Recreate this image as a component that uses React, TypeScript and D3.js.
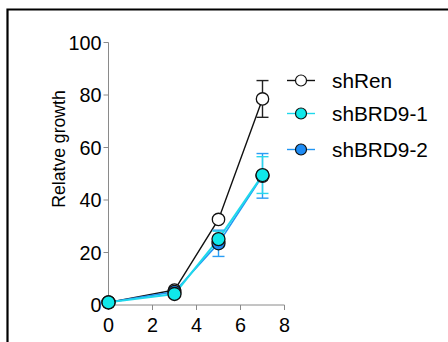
import React from "react";
import * as d3 from "d3";

// Days after infection
const days = [0, 3, 5, 7];

// Relative growth (mean) and error (SD) for each hairpin
const shRen = [1, 5.7, 32.6, 78.5];
const shRenErr = [0, 0.5, 1, 7];
const shBRD9_1 = [1, 4.2, 25.1, 49.5];
const shBRD9_1Err = [0, 0.5, 3, 7];
const shBRD9_2 = [1, 5, 23.5, 49.2];
const shBRD9_2Err = [0, 0.5, 5, 8.5];

const xTicks = [0, 2, 4, 6, 8];
const yTicks = [0, 20, 40, 60, 80, 100];

const seriesNames = ["shRen", "shBRD9-1", "shBRD9-2"];

const W = 448;
const H = 342;
const FONT = "Arial, 'Liberation Sans', Helvetica, sans-serif";

export default function App() {
  const x = d3.scaleLinear().domain([0, 8]).range([108.5, 284.5]);
  const y = d3.scaleLinear().domain([0, 100]).range([305, 42.5]);

  const series = [
    { name: seriesNames[0], values: shRen, err: shRenErr, line: "#111", fill: "#fff", errColor: "#222", lw: 1.4, r: 6.2 },
    { name: seriesNames[2], values: shBRD9_2, err: shBRD9_2Err, line: "#2196f3", fill: "#1e8cf5", errColor: "#2a9df4", lw: 1.6, r: 6.5 },
    { name: seriesNames[1], values: shBRD9_1, err: shBRD9_1Err, line: "#1fd8ec", fill: "#10e8ea", errColor: "#2ad6ec", lw: 2, r: 6.5 },
  ];

  const lineGen = d3
    .line<number>()
    .x((_, i) => x(days[i]))
    .y((d) => y(d));

  const legend = [
    { name: seriesNames[0], line: "#111", fill: "#fff", y: 80.5 },
    { name: seriesNames[1], line: "#1fd8ec", fill: "#10e8ea", y: 113.5 },
    { name: seriesNames[2], line: "#2196f3", fill: "#1e8cf5", y: 149.5 },
  ];

  const axisColor = "#8a8a8a";

  return (
    <svg
      width={W}
      height={H}
      style={{ position: "absolute", left: 0, top: 0, background: "#fff" }}
      fontFamily={FONT}
    >
      {/* frame */}
      <path d={`M7.5,${H} V9.5 H${W}`} fill="none" stroke="#000" strokeWidth={2.2} />

      {/* y axis */}
      <line x1={x(0)} x2={x(0)} y1={y(0)} y2={y(100)} stroke={axisColor} strokeWidth={1} />
      {yTicks.map((t) => (
        <g key={`y${t}`}>
          <line x1={x(0) - 5} x2={x(0)} y1={y(t)} y2={y(t)} stroke={axisColor} strokeWidth={1} />
          <text x={x(0) - 7} y={y(t)} dy="0.36em" textAnchor="end" fontSize={19.8} fill="#000">
            {t}
          </text>
        </g>
      ))}

      {/* x axis */}
      <line x1={x(0)} x2={x(8)} y1={y(0)} y2={y(0)} stroke={axisColor} strokeWidth={1} />
      {xTicks.map((t) => (
        <g key={`x${t}`}>
          <line x1={x(t)} x2={x(t)} y1={y(0)} y2={y(0) + 5} stroke={axisColor} strokeWidth={1} />
          <text x={x(t)} y={332} textAnchor="middle" fontSize={19.8} fill="#000">
            {t}
          </text>
        </g>
      ))}

      {/* axis title */}
      <text
        transform={`translate(64.5,149) rotate(-90)`}
        textAnchor="middle"
        fontSize={17.6}
        fill="#000"
      >
        Relatve growth
      </text>

      {/* lines */}
      {series.map((s) => (
        <path key={`l${s.name}`} d={lineGen(s.values) || ""} fill="none" stroke={s.line} strokeWidth={s.lw} />
      ))}

      {/* error bars */}
      {series.map((s) =>
        s.values.map((v, i) =>
          s.err[i] > 1.5 ? (
            <g key={`e${s.name}${i}`} stroke={s.errColor} strokeWidth={1.4}>
              <line x1={x(days[i])} x2={x(days[i])} y1={y(v + s.err[i])} y2={y(v - s.err[i])} />
              <line x1={x(days[i]) - 6} x2={x(days[i]) + 6} y1={y(v + s.err[i])} y2={y(v + s.err[i])} />
              <line x1={x(days[i]) - 6} x2={x(days[i]) + 6} y1={y(v - s.err[i])} y2={y(v - s.err[i])} />
            </g>
          ) : null
        )
      )}

      {/* markers */}
      {series.map((s) =>
        s.values.map((v, i) => (
          <circle
            key={`m${s.name}${i}`}
            cx={x(days[i])}
            cy={y(v)}
            r={s.r}
            fill={s.fill}
            stroke="#111"
            strokeWidth={1.3}
          />
        ))
      )}

      {/* legend */}
      {legend.map((l) => (
        <g key={`lg${l.name}`}>
          <line x1={287} x2={315} y1={l.y} y2={l.y} stroke={l.line} strokeWidth={1.4} />
          <circle cx={301} cy={l.y} r={5.5} fill={l.fill} stroke="#111" strokeWidth={1.2} />
          <text x={332} y={l.y + 7} fontSize={20.8} fill="#000">
            {l.name}
          </text>
        </g>
      ))}
    </svg>
  );
}
